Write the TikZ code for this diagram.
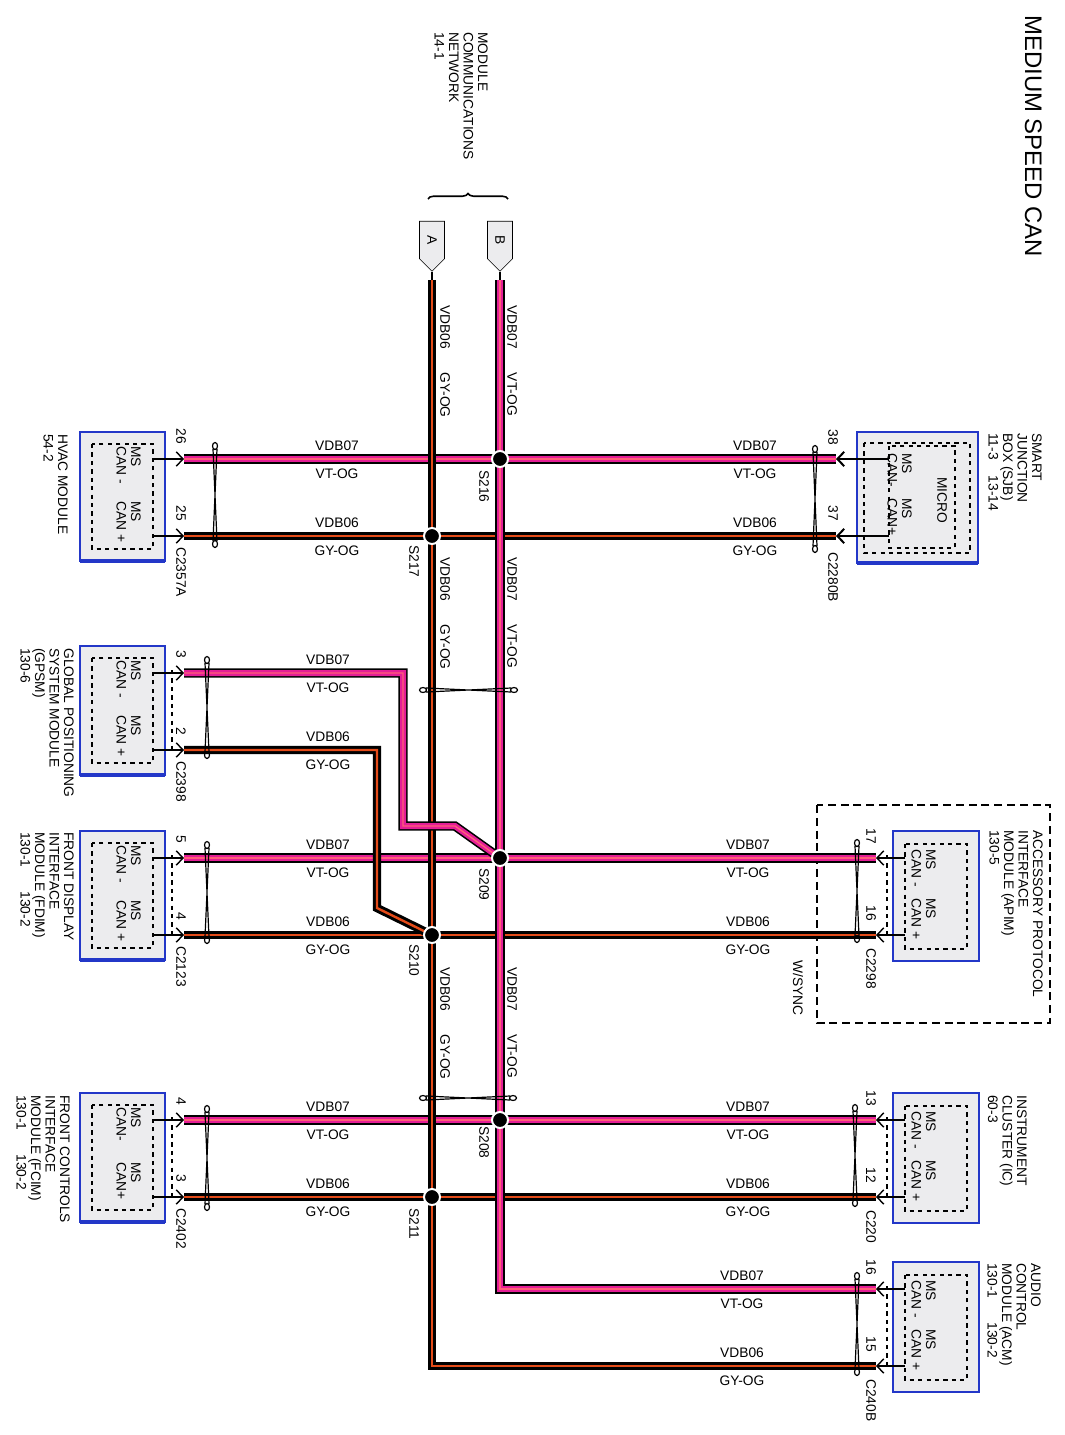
\documentclass[tikz,border=0pt]{standalone}
\usepackage{fontspec}
\setmainfont{Liberation Sans}
\usetikzlibrary{arrows.meta,shapes.symbols,decorations.pathreplacing}
\definecolor{vtpink}{RGB}{228,30,150}
\definecolor{vtstripe}{RGB}{255,95,120}
\definecolor{ogred}{RGB}{228,75,25}
\definecolor{boxblue}{RGB}{35,55,200}
\definecolor{boxgray}{RGB}{236,236,238}

\begin{document}
\begin{tikzpicture}[x=0.25mm, y=-0.25mm,
  txt/.style={font=\fontsize{9.8}{10.3}\selectfont, inner sep=0pt},
  rl/.style={txt, rotate=-90, align=left},
  vt/.style={draw=black, line width=2.3mm, postaction={draw=vtpink, line width=1.5mm}, postaction={draw=vtstripe, line width=0.35mm}},
  gy/.style={draw=black, line width=2.1mm, postaction={draw=ogred, line width=0.6mm}},
  module/.style={draw=boxblue, fill=boxgray, line width=0.45mm},
  inbox/.style={draw=black, dashed, line width=0.3mm},
  pinline/.style={line width=0.35mm, -{Straight Barb[length=1.7mm, width=3.6mm]}},
  twist/.style={line width=0.3mm},
  plug/.style={signal, signal to=east, draw=black, fill=boxgray, rotate=-90, minimum width=12.5mm, minimum height=6.25mm, txt},
  splice/.style={fill=black, draw=white, line width=0.5mm}]

  \path[use as bounding box, fill=white] (0,0) rectangle (1065,1435);

  \node[rl, font=\fontsize{17}{20}\selectfont, anchor=north west] (title) at (1042,15) {MEDIUM SPEED CAN};
  \node[rl, anchor=north west] (mcn) at (488,32) {MODULE\\COMMUNICATIONS\\NETWORK\\14-1};
  \draw[decorate, decoration={brace, amplitude=1.4mm}, line width=0.4mm] (428,199) -- (508,199);
  \node[plug] (A) at (432,240) {A};
  \node[plug] (B) at (500,240) {B};
  \coordinate (Atop) at (432,280);
  \coordinate (Btop) at (500,280);

  % modules on the left
  \foreach \n/\t/\m/\p/\a/\b/\c in {hvac/432/{CAN -}/{CAN +}/26/25/C2357A, gpsm/646/{CAN -}/{CAN +}/3/2/C2398,
      fdim/831/{CAN -}/{CAN +}/5/4/C2123, fcim/1093/CAN-/CAN+/4/3/C2402} {
    \draw[module] (80,\t) rectangle (165,\t+129);
    \draw[boxblue, line width=0.8mm] (80,\t+129) -- (165,\t+129);
    \draw[inbox] (92,\t+12) rectangle (153,\t+117);
    \node[rl, anchor=north west] (\n m) at (141,\t+14) {MS\\\m};
    \node[rl, anchor=north west] (\n p) at (141,\t+69) {MS\\\p};
    \coordinate (\n i1) at (153,\t+27);
    \coordinate (\n i2) at (153,\t+104);
    \coordinate (\n1) at (184,\t+27);
    \coordinate (\n2) at (184,\t+104);
    \draw[pinline] (\n i1) -- (\n1);
    \draw[pinline] (\n i2) -- (\n2);
    \node[rl, anchor=east] (\n a) at (181,\t+12) {\a};
    \node[rl, anchor=east] (\n b) at (181,\t+89) {\b};
    \node[rl, anchor=west] (\n c) at (181,\t+115) {\c};
  }
  \foreach \t in {646,831,1093} \draw[dashed, line width=0.3mm] (172,\t+24) -- (172,\t+108);

  % modules on the right
  \foreach \n/\t/\a/\b/\c in {apim/831/17/16/C2298, ic/1093/13/12/C220, acm/1262/16/15/C240B} {
    \draw[module] (893,\t) rectangle (979,\t+130);
    \draw[inbox] (905,\t+13) rectangle (967,\t+118);
    \node[rl, anchor=north west] (\n m) at (936,\t+18) {MS\\CAN -};
    \node[rl, anchor=north west] (\n p) at (936,\t+67) {MS\\CAN +};
    \coordinate (\n i1) at (905,\t+27);
    \coordinate (\n i2) at (905,\t+104);
    \coordinate (\n1) at (876,\t+27);
    \coordinate (\n2) at (876,\t+104);
    \draw[pinline] (\n i1) -- (\n1);
    \draw[pinline] (\n i2) -- (\n2);
    \draw[dashed, line width=0.3mm] (887,\t+24) -- (887,\t+108);
    \node[rl, anchor=east] (\n a) at (871,\t+13) {\a};
    \node[rl, anchor=east] (\n b) at (871,\t+90) {\b};
    \node[rl, anchor=west] (\n c) at (871,\t+117) {\c};
  }

  \draw[module] (857,432) rectangle (978,563);
  \draw[boxblue, line width=0.8mm] (857,563) -- (978,563);
  \draw[inbox] (864,443) rectangle (970,553);
  \draw[inbox] (889,446) rectangle (955,548);
  \node[rl] (micro) at (942,500) {MICRO};
  \node[rl, anchor=north west] (sjb m) at (912,453) {MS\\CAN-};
  \node[rl, anchor=north west] (sjb p) at (912,498) {MS\\CAN+};
  \coordinate (sjb i1) at (889,459);
  \coordinate (sjb i2) at (889,536);
  \coordinate (sjb1) at (836,459);
  \coordinate (sjb2) at (836,536);
  \draw[pinline, line width=0.5mm] (sjb i1) -- (sjb1);
  \draw[pinline, line width=0.5mm] (sjb i2) -- (sjb2);
  \node[rl, anchor=east] (sjb a) at (833,445) {38};
  \node[rl, anchor=east] (sjb b) at (833,521) {37};
  \node[rl, anchor=west] (sjb c) at (833,552) {C2280B};

  \draw[dashed, line width=0.55mm, dash pattern=on 2mm off 1.2mm] (817,805) rectangle (1050,1023);
  \node[rl, anchor=west] (sync) at (798,960) {W/SYNC};

  \node[rl, anchor=north west] (hvac t) at (68,434) {HVAC MODULE\\54-2};
  \node[rl, anchor=north west] (gpsm t) at (74,648) {GLOBAL POSITIONING\\SYSTEM MODULE\\(GPSM)\\130-6};
  \node[rl, anchor=north west] (fdim t) at (74,832) {FRONT DISPLAY\\INTERFACE\\MODULE (FDIM)\\130-1\hspace{6mm}130-2};
  \node[rl, anchor=north west] (fcim t) at (70,1095) {FRONT CONTROLS\\INTERFACE\\MODULE (FCIM)\\130-1\hspace{6mm}130-2};
  \node[rl, anchor=north west] (sjb t) at (1042,433) {SMART\\JUNCTION\\BOX (SJB)\\11-3\hspace{4mm}13-14};
  \node[rl, anchor=north west] (apim t) at (1043,830) {ACCESSORY PROTOCOL\\INTERFACE\\MODULE (APIM)\\130-5};
  \node[rl, anchor=north west] (ic t) at (1027,1095) {INSTRUMENT\\CLUSTER (IC)\\60-3};
  \node[rl, anchor=north west] (acm t) at (1041,1263) {AUDIO\\CONTROL\\MODULE (ACM)\\130-1\hspace{6mm}130-2};

  \coordinate (S216) at (500,459);
  \coordinate (S217) at (432,536);
  \coordinate (S209) at (500,858);
  \coordinate (S210) at (432,935);
  \coordinate (S208) at (500,1120);
  \coordinate (S211) at (432,1197);

  % wires
  \draw[vt] (hvac1) -- (sjb1);
  \draw[gy] (hvac2) -- (sjb2);
  \draw[vt] (fdim1) -- (apim1);
  \draw[gy] (fdim2) -- (apim2);
  \draw[vt] (fcim1) -- (ic1);
  \draw[gy] (fcim2) -- (ic2);
  \draw[line width=0.3mm] (A.east) -- (Atop) (B.east) -- (Btop);
  \draw[gy] (Atop) |- (acm2);
  \draw[vt] (Btop) |- (acm1);
  \draw[vt] (gpsm1) -| (403,826) -- (455,826) -- (S209);
  \draw[gy] (gpsm2) -| (377,908) -- (S210);

  \foreach \x/\a/\b in {215/443/547, 207/657/758, 207/842/943, 207/1106/1210, 815/446/552, 857/840/942, 855/1105/1206, 857/1273/1375}
    \draw[twist] (\x,\a+3) ellipse (2.5 and 3.5) (\x,\b-3) ellipse (2.5 and 3.5) (\x-2,\a+6) -- (\x+2,\b-6) (\x+2,\a+6) -- (\x-2,\b-6);
  \foreach \y/\a/\b in {690/420/517, 1098/420/516}
    \draw[twist] (\a+3,\y) ellipse (3.5 and 2.5) (\b-3,\y) ellipse (3.5 and 2.5) (\a+6,\y-2) -- (\b-6,\y+2) (\a+6,\y+2) -- (\b-6,\y-2);

  \foreach \s in {S216,S217,S209,S210,S208,S211} \path[splice] (\s) circle (8);
  \node[rl, anchor=west] (l216) at (484,470) {S216};
  \node[rl, anchor=west] (l217) at (414,545) {S217};
  \node[rl, anchor=west] (l209) at (484,868) {S209};
  \node[rl, anchor=west] (l210) at (414,944) {S210};
  \node[rl, anchor=west] (l208) at (484,1126) {S208};
  \node[rl, anchor=west] (l211) at (414,1208) {S211};

  \foreach \x/\y [count=\i] in {337/459, 755/459, 328/673, 328/858, 748/858, 328/1120, 748/1120, 742/1289} {
    \node[txt] (vdb\i) at (\x,\y-13) {VDB07};
    \node[txt] (vto\i) at (\x,\y+15) {VT-OG};
  }
  \foreach \x/\y [count=\i] in {337/536, 755/536, 328/750, 328/935, 748/935, 328/1197, 748/1197, 742/1366} {
    \node[txt] (vds\i) at (\x,\y-13) {VDB06};
    \node[txt] (gyo\i) at (\x,\y+15) {GY-OG};
  }
  \foreach \y [count=\i] in {305,557,967} {
    \node[rl, anchor=west] (ta\i) at (445,\y) {VDB06\hspace{6mm}GY-OG};
    \node[rl, anchor=west] (tb\i) at (512,\y) {VDB07\hspace{6mm}VT-OG};
  }
\end{tikzpicture}
\end{document}
